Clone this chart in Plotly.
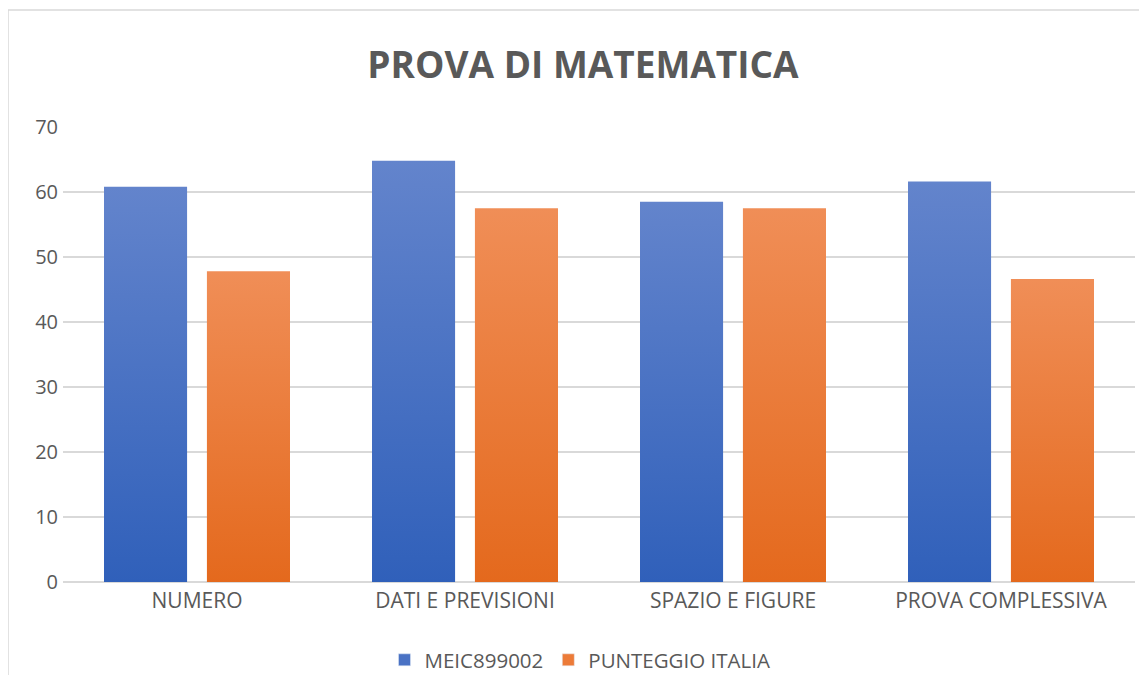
import plotly.graph_objects as go

# %% data
categories = ['NUMERO', 'DATI E PREVISIONI', 'SPAZIO E FIGURE', 'PROVA COMPLESSIVA']
meic = [60.8, 64.8, 58.5, 61.6]
italia = [47.8, 57.5, 57.5, 46.6]

# %% figure (page body adds an 8px margin, so the figure is 8px smaller)
OFF = 8
W, H = 1147 - OFF, 675 - OFF
L, R, T, B = 63 - OFF, 12, 127 - OFF, 93
pw = W - L - R
ph = H - T - B

series = [
    ('MEIC899002', meic, '#3060BA', '#6384CC', '#4A72C4', -0.347, -0.037),
    ('PUNTEGGIO ITALIA', italia, '#E4691D', '#F08E57', '#EC7B38', 0.037, 0.347),
]

fig = go.Figure()
for name, vals, dark, light, mid, x0, x1 in series:
    for i, v in enumerate(vals):
        fig.add_trace(go.Scatter(
            x=[i + x0, i + x1, i + x1, i + x0, i + x0],
            y=[0, 0, v, v, 0],
            mode='lines', fill='toself', line=dict(width=0, color=mid),
            fillgradient=dict(type='vertical',
                              colorscale=[[0, dark], [1, light]]),
            showlegend=False, hoverinfo='skip'))
    # legend entry
    fig.add_trace(go.Bar(x=[None], y=[None], name=name, marker_color=mid))

fig.update_layout(
    width=W, height=H,
    margin=dict(l=L, r=R, t=T, b=B, autoexpand=False),
    paper_bgcolor='white', plot_bgcolor='white',
    font=dict(family='Open Sans, sans-serif', size=21, color='#595959'),
    title=dict(text='<b>PROVA DI MATEMATICA</b>',
               x=(583 - OFF) / W, xref='container', xanchor='center',
               y=1 - (65 - OFF) / H, yref='container', yanchor='middle',
               font=dict(size=37, color='#595959')),
    xaxis=dict(range=[-0.5, 3.5], tickvals=[0, 1, 2, 3], ticktext=categories,
               showgrid=False, zeroline=False, showline=False, ticks='',
               tickfont=dict(size=21), ticklabelstandoff=4, fixedrange=True),
    yaxis=dict(range=[0, 70], dtick=10, showgrid=True, gridcolor='#D9D9D9',
               gridwidth=1.5, zeroline=True, zerolinecolor='#D9D9D9',
               zerolinewidth=2, ticks='', ticklabelstandoff=4,
               tickfont=dict(size=20)),
    legend=dict(orientation='h', x=(580 - OFF) / W, xref='container',
                xanchor='center', y=1 - (660 - OFF) / H, yref='container',
                yanchor='middle', font=dict(size=20.5), itemwidth=30),
    # light chart border (left and top edges visible)
    shapes=[dict(type='rect', xref='paper', yref='paper',
                 x0=-(L - (8 - OFF)) / pw, x1=(W + 5 - L) / pw,
                 y0=-(B + 5) / ph, y1=1 + (T - (10 - OFF)) / ph,
                 line=dict(color='#D9D9D9', width=1.5), layer='below')],
)

fig.write_html('out.html')
